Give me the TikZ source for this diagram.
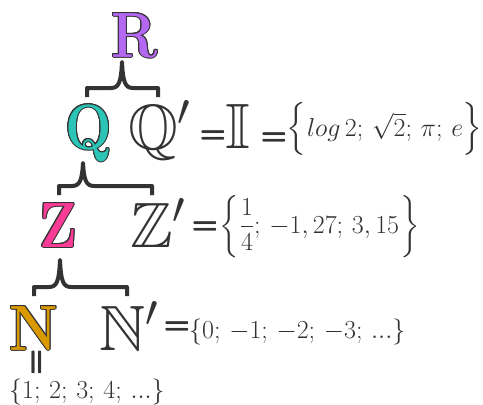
\RequirePackage{fix-cm}
\documentclass[tikz,border=0pt]{standalone}
\usepackage{amssymb}
\usetikzlibrary{calc}
\definecolor{ink}{HTML}{333333}
\definecolor{cR}{HTML}{B468F2}
\definecolor{cQ}{HTML}{2BC4B6}
\definecolor{cZ}{HTML}{FA3C96}
\definecolor{cN}{HTML}{D99A00}
\tikzset{
  bigletter/.style={inner sep=0pt, anchor=base west, font=\fontsize{64}{64}\selectfont},
  colletterstyle/.style={bigletter, font=\fontsize{64}{64}\selectfont\bfseries, xscale=0.86},
  hollow/.style={bigletter, text=ink},
  settext/.style={inner sep=0pt, anchor=base west, text=ink, font=\fontsize{26}{28}\selectfont},
  eqsign/.style={inner sep=0pt, text=ink, font=\fontsize{30}{30}\selectfont\boldmath},
  bracepath/.style={draw=ink, line width=4pt, line join=round},
}
\newcommand{\colletter}[4]{%
  \foreach \ang in {0,30,...,330}{\node[colletterstyle,text=ink] at ([shift={(\ang:1)}]#2) {#4};}
  \node[colletterstyle,text=#3] (#1) at (#2) {#4};
}
\newcommand{\eqs}[4]{% name, position, shift key, extra options
  \node[eqsign,#4] at ([#3=0.75pt]#2) {$=$};
  \node[eqsign,#4] at ([#3=-0.75pt]#2) {$=$};
  \node[eqsign,#4] (#1) at (#2) {$=$};
}
\newcommand{\hbr}[5]{%
  \draw[bracepath] (#1,{#3+9}) -- (#1,#3) -- ({#4-11},#3)
    .. controls ({#4-3},#3) and ({#4-1},{#3-6}) .. (#4,#5)
    .. controls ({#4+1},{#3-6}) and ({#4+3},#3) .. ({#4+11},#3)
    -- (#2,#3) -- (#2,{#3+9});
}
\newcommand{\dl}[4]{% font size, half height (em), left delimiter, right delimiter
  \mbox{\fontsize{#1}{#1}\selectfont$\left#3\vcenter{\hbox{\vrule height #2em depth #2em width 0pt}}\right#4$}}
\begin{document}
\begin{tikzpicture}[x=1pt,y=-1pt]
\useasboundingbox[fill=white] (0,0) rectangle (483,405);
% letters
\coordinate (pR) at (111,57);
\coordinate (pQ) at (65,149);
\coordinate (pZ) at (39,247);
\coordinate (pN) at (9,350);
\colletter{R}{pR}{cR}{R}
\colletter{Q}{pQ}{cQ}{Q}
\colletter{Z}{pZ}{cZ}{Z}
\colletter{N}{pN}{cN}{N}
\node[hollow] (Qp) at (128,149) {$\mathbb{Q}'$};
\node[hollow] (Zp) at (130,247) {$\mathbb{Z}'$};
\node[hollow] (Np) at (99,350) {$\mathbb{N}'$};
\node[hollow] (I) at (225,148) {$\mathbb{I}$};
% equals signs
\coordinate (q1) at (213,137);
\coordinate (q2) at (274,139);
\coordinate (q3) at (205,228);
\coordinate (q4) at (177,328);
\coordinate (q5) at (38,362);
\eqs{e1}{q1}{yshift}{}
\eqs{e2}{q2}{yshift}{}
\eqs{e3}{q3}{yshift}{}
\eqs{e4}{q4}{yshift}{}
\eqs{e5}{q5}{xshift}{rotate=90}
% sets
\node[settext] (s1) at (286,136.5) {\dl{29.5}{0.75}{\{}{.}$log\,2;\,\sqrt{2};\,\pi;\,e$\hspace{-0.05em}\dl{29.5}{0.75}{.}{\}}};
\node[settext] (s2) at (219,233) {\dl{26}{1.1}{\{}{.}${\displaystyle\frac{1}{4}};\,-1,27;\,3,15$\dl{26}{1.1}{.}{\}}};
\node[settext] (s3) at (189,338) {$\{0;\,-1;\,-2;\,-3;\,...\}$};
\node[settext] (s4) at (9,398) {$\{1;\,2;\,3;\,4;\,...\}$};
% braces
\hbr{87}{158}{88}{122}{62}
\hbr{59}{152}{186}{83}{163}
\hbr{34}{127}{287}{60}{260}
\end{tikzpicture}
\end{document}
